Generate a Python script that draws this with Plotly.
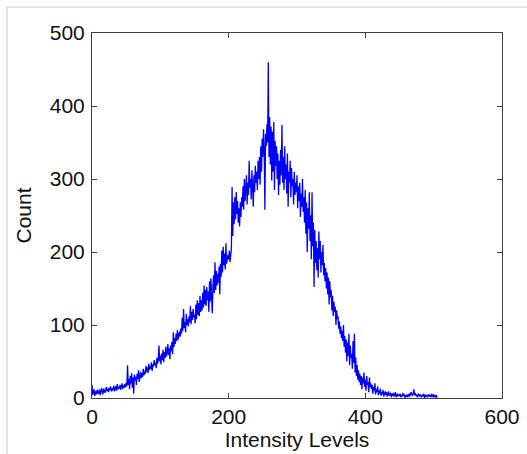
import plotly.graph_objects as go

intensity = list(range(0, 506))

counts = [
    18, 4, 9, 12, 3, 8, 10, 5, 11, 7,
    6, 12, 4, 9, 14, 8, 5, 13, 10, 7,
    11, 15, 9, 13, 8, 14, 10, 16, 12, 9,
    14, 11, 17, 9, 13, 16, 10, 19, 12, 15,
    13, 18, 11, 16, 20, 12, 17, 14, 19, 15,
    21, 16, 45, 18, 26, 12, 30, 20, 34, 14,
    28, 6, 32, 24, 29, 18, 33, 26, 38, 22,
    30, 36, 27, 34, 29, 40, 31, 37, 33, 44,
    36, 42, 34, 47, 38, 44, 40, 49, 37, 46,
    43, 52, 45, 48, 41, 55, 47, 53, 72, 50,
    58, 46, 61, 52, 66, 49, 63, 55, 70, 57,
    62, 74, 59, 68, 53, 72, 64, 77, 60, 90,
    70, 82, 74, 88, 78, 93, 80, 86, 91, 84,
    95, 88, 110, 92, 122, 96, 104, 90, 115, 100,
    108, 98, 112, 104, 126, 101, 118, 107, 122, 110,
    114, 102, 128, 108, 134, 114, 130, 112, 140, 118,
    134, 120, 144, 124, 154, 128, 148, 126, 152, 134,
    146, 118, 160, 132, 164, 140, 116, 154, 168, 144,
    186, 148, 174, 154, 170, 158, 180, 142, 184, 166,
    202, 172, 207, 182, 198, 176, 212, 184, 194, 196,
    190, 202, 186, 195, 205, 289, 222, 268, 238, 275,
    245, 282, 252, 270, 240, 260, 235, 268, 248, 275,
    262, 290, 258, 300, 270, 285, 305, 265, 295, 278,
    325, 288, 300, 272, 312, 290, 262, 305, 282, 318,
    295, 310, 285, 325, 300, 330, 292, 345, 310, 355,
    330, 368, 340, 258, 362, 345, 375, 350, 460, 330,
    385, 320, 372, 298, 365, 310, 378, 285, 352, 318,
    345, 300, 335, 278, 325, 292, 340, 305, 374, 295,
    330, 285, 345, 300, 320, 280, 335, 262, 310, 295,
    325, 275, 315, 290, 300, 265, 310, 278, 295, 282,
    305, 260, 290, 270, 295, 248, 280, 262, 300, 255,
    275, 240, 285, 225, 268, 200, 260, 232, 282, 215,
    250, 190, 282, 208, 240, 152, 230, 185, 215, 175,
    205, 165, 228, 190, 215, 172, 200, 182, 210, 168,
    185, 160, 178, 150, 172, 142, 165, 128, 160, 138,
    148, 120, 140, 112, 132, 118, 125, 100, 120, 108,
    112, 95, 105, 88, 98, 82, 92, 78, 100, 70,
    85, 62, 80, 50, 76, 58, 88, 45, 72, 55,
    60, 40, 78, 48, 88, 35, 55, 30, 45, 25,
    38, 22, 33, 18, 30, 12, 28, 20, 35, 15,
    25, 10, 30, 18, 22, 8, 28, 15, 20, 12,
    18, 6, 15, 10, 20, 5, 12, 8, 16, 4,
    10, 6, 13, 3, 8, 5, 11, 2, 7, 9,
    4, 8, 2, 6, 9, 3, 5, 7, 1, 6,
    3, 7, 2, 5, 8, 1, 4, 6, 2, 5,
    3, 6, 1, 4, 2, 7, 3, 5, 0, 4,
    2, 5, 1, 3, 6, 2, 4, 8, 5, 3,
    6, 12, 4, 7, 3, 5, 1, 4, 6, 2,
    5, 3, 1, 4, 2, 6, 3, 0, 5, 2,
    4, 1, 3, 5, 2, 4, 1, 6, 3, 2,
    5, 1, 4, 2, 3, 0,
]

x_ticks = [0, 200, 400, 600]
y_ticks = [0, 100, 200, 300, 400, 500]

font_family = "Liberation Sans, Arial, sans-serif"

fig = go.Figure()
fig.add_trace(go.Scatter(
    x=intensity, y=counts, mode="lines",
    line=dict(color="#0000ff", width=1.3),
    showlegend=False,
))

axis_common = dict(
    showgrid=False, zeroline=False, automargin=False,
    showline=True, linecolor="#404040", linewidth=1, mirror="allticks",
    ticks="inside", ticklen=5, tickcolor="#404040", tickwidth=1,
    tickfont=dict(family=font_family, size=21, color="#111111"),
)

fig.update_layout(
    width=527, height=454,
    margin=dict(l=92, r=25, t=33, b=56, autoexpand=False),
    paper_bgcolor="white", plot_bgcolor="white",
    xaxis=dict(range=[0, 600], tickvals=x_ticks,
               title=dict(text="Intensity Levels", standoff=5,
                          font=dict(family=font_family, size=21, color="#111111")),
               **axis_common),
    yaxis=dict(range=[0, 500], tickvals=y_ticks, ticklabelstandoff=2,
               title=dict(text="Count", standoff=12,
                          font=dict(family=font_family, size=21, color="#111111")),
               **axis_common),
    shapes=[
        dict(type="line", xref="paper", yref="paper",
             x0=-0.2073, x1=-0.2073, y0=1.0712, y1=-0.2, line=dict(color="#c8c8c8", width=1)),
        dict(type="line", xref="paper", yref="paper",
             x0=-0.2073, x1=1.1, y0=1.0712, y1=1.0712, line=dict(color="#c8c8c8", width=1)),
    ],
)

fig.write_html("out.html", config={"displayModeBar": False},
               post_script="document.body.style.margin='0';")
